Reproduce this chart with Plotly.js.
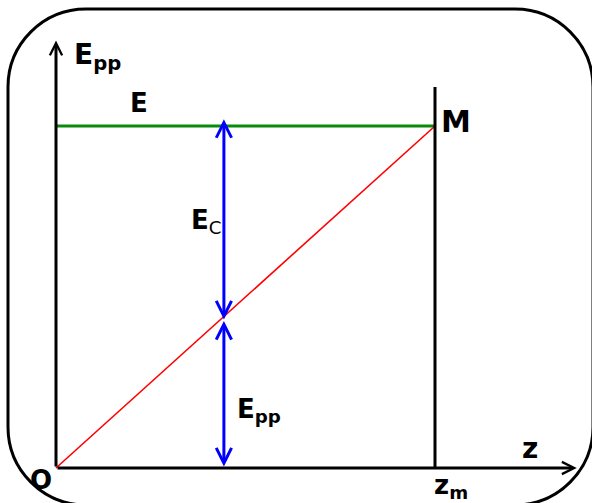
<!DOCTYPE html>
<html>
<head>
<meta charset="utf-8">
<script src="https://cdn.plot.ly/plotly-3.0.1.min.js"></script>
<style>html,body{margin:0;padding:0;background:#fff;}#chart{width:592px;height:503px;}</style>
</head>
<body>
<div id="chart"></div>
<script>
// ---- data (chart units) ----
const zLine = [0, 10];            // O -> z_m
const totalEnergy = [10, 10];     // E (constant)
const potentialEnergy = [0, 10];  // E_pp rising from O to M
const zm = 10;                    // position of vertical line z_m
const zMark = 4.43;               // position of the E_c / E_pp arrows
const eppAtMark = 4.3;            // E_pp value where the arrows meet
const Emax = 10;
const arrowTop = 10.2;            // tip of the upper blue arrow
const zAxisEnd = 13.74;
const yAxisEnd = 12.5;
const vLineTop = 11.14;
const labels = {E: 'E', M: 'M', Ec: 'E<sub><span style="font-weight:normal">C</span></sub>', Epp: 'E<sub>pp</sub>', z: 'z', zm: 'z<sub>m</sub>', O: 'O'};

// ---- layout geometry (pixels) ----
const W = 592, H = 503;
const ox = 56, oy = 468, sx = 37.9, sy = 34.2;
const xr = [-ox / sx, (W - ox) / sx];
const yr = [-(H - oy) / sy, oy / sy];
const px = x => (x - ox) / sx;
const py = y => (oy - y) / sy;

// rounded rectangle border in paper coords
function pp(x, y) { return (x / W).toFixed(5) + ',' + (1 - y / H).toFixed(5); }
const L = 8, T = 9, R = 593, B = 505, rad = 78, k = 0.5523 * rad;
const border = 'M' + pp(L + rad, T) + ' L' + pp(R - rad, T) +
  ' C' + pp(R - rad + k, T) + ' ' + pp(R, T + rad - k) + ' ' + pp(R, T + rad) +
  ' L' + pp(R, B - rad) +
  ' C' + pp(R, B - rad + k) + ' ' + pp(R - rad + k, B) + ' ' + pp(R - rad, B) +
  ' L' + pp(L + rad, B) +
  ' C' + pp(L + rad - k, B) + ' ' + pp(L, B - rad + k) + ' ' + pp(L, B - rad) +
  ' L' + pp(L, T + rad) +
  ' C' + pp(L, T + rad - k) + ' ' + pp(L + rad - k, T) + ' ' + pp(L + rad, T) + ' Z';

const traces = [
  {x: zLine, y: totalEnergy, mode: 'lines', line: {color: '#0a8a0a', width: 3}, hoverinfo: 'skip'},
  {x: zLine, y: potentialEnergy, mode: 'lines', line: {color: '#ff0000', width: 1.6}, hoverinfo: 'skip'},
  {x: [zm, zm], y: [0, vLineTop], mode: 'lines', line: {color: '#000', width: 3}, hoverinfo: 'skip'}
];

const fontB = {family: 'DejaVu Sans', size: 26, color: '#000', weight: 'bold'};
function txt(text, x, y, xa, ya, size) {
  return {text: text, x: x, y: y, xref: 'x', yref: 'y', showarrow: false, xanchor: xa, yanchor: ya,
    font: Object.assign({}, fontB, size ? {size: size} : {})};
}
function arrow(x, y, ax, ay, color, width, head, size, both) {
  const a = {x: x, y: y, ax: ax, ay: ay, xref: 'x', yref: 'y', axref: 'x', ayref: 'y', text: '',
    showarrow: true, arrowhead: head, arrowsize: size, arrowwidth: width, arrowcolor: color};
  if (both) { a.arrowside = 'end+start'; a.startarrowhead = head; a.startarrowsize = size; }
  return a;
}

const annotations = [
  // axes
  arrow(0, yAxisEnd, 0, 0, '#000', 3, 5, 0.8, false),
  arrow(zAxisEnd, 0, 0, 0, '#000', 3, 5, 0.8, false),
  // blue double arrows
  arrow(zMark, arrowTop, zMark, eppAtMark, '#0000ff', 3, 5, 1, true),
  arrow(zMark, eppAtMark, zMark, 0, '#0000ff', 3, 5, 1, true),
  // labels
  txt(labels.Epp, px(72), py(56), 'left', 'middle', 28),
  txt(labels.E, px(138.5), py(102.5), 'center', 'middle', 26),
  txt(labels.M, px(455.5), py(121.5), 'center', 'middle', 30),
  txt(labels.Ec, px(189), py(221), 'left', 'middle', 26),
  txt(labels.Epp, px(235), py(410), 'left', 'middle', 26),
  txt(labels.z, px(529.5), py(448), 'center', 'middle', 28),
  txt(labels.zm, px(432), py(486), 'left', 'middle', 26),
  txt(labels.O, px(41), py(480), 'center', 'middle', 26)
];

const layout = {
  width: W, height: H, margin: {l: 0, r: 0, t: 0, b: 0},
  paper_bgcolor: '#fff', plot_bgcolor: '#fff', showlegend: false,
  xaxis: {range: xr, visible: false, fixedrange: true},
  yaxis: {range: yr, visible: false, fixedrange: true},
  shapes: [{type: 'path', xref: 'paper', yref: 'paper', path: border, line: {color: '#000', width: 3}, layer: 'above'}],
  annotations: annotations
};

Plotly.newPlot('chart', traces, layout, {displayModeBar: false, staticPlot: true});
</script>
</body>
</html>
